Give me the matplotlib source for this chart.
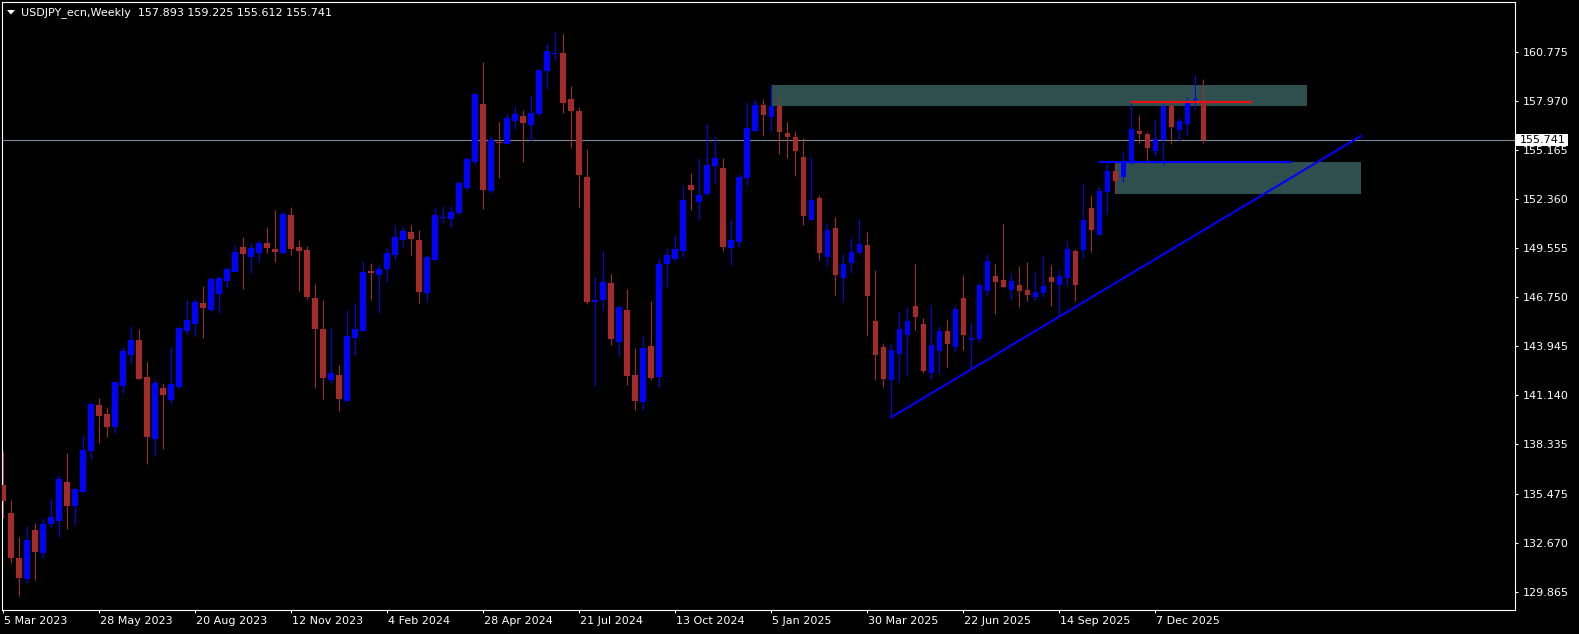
import numpy as np
import matplotlib
matplotlib.use("Agg")
import matplotlib.pyplot as plt
import matplotlib.transforms as mtransforms
from matplotlib.patches import Rectangle, Polygon

plt.rcParams['font.family'] = ['DejaVu Sans']

# weekly USDJPY candles, 5 Mar 2023 .. 18 Jan 2026
open_ = [
    135.99, 134.38, 131.80, 130.62, 133.41, 132.11, 133.77, 133.92, 136.16, 134.80,
    135.58, 137.93, 140.57, 140.05, 139.31, 141.68, 143.46, 144.30, 142.18, 138.64,
    141.55, 140.88, 141.60, 144.81, 145.23, 146.41, 146.04, 146.95, 147.68, 148.21,
    149.61, 149.05, 149.28, 149.86, 149.51, 149.28, 151.46, 149.63, 149.46, 146.70,
    144.93, 142.02, 142.29, 140.82, 144.43, 144.81, 148.25, 148.02, 148.37, 149.17,
    150.05, 150.49, 150.03, 147.01, 148.88, 151.29, 151.25, 151.60, 153.01, 154.52,
    157.82, 152.86, 155.66, 155.55, 156.87, 157.14, 156.64, 157.25, 159.73, 160.69,
    160.74, 158.11, 157.42, 153.64, 146.50, 146.61, 147.57, 144.20, 146.02, 142.29,
    140.77, 143.96, 142.20, 148.67, 148.94, 149.40, 153.18, 152.22, 152.68, 154.29,
    154.15, 149.59, 149.91, 153.60, 156.27, 157.76, 157.08, 157.71, 156.16, 155.93,
    154.78, 151.19, 152.43, 149.05, 150.72, 147.87, 148.71, 149.30, 149.74, 145.39,
    143.90, 142.03, 143.51, 144.60, 146.24, 145.21, 142.42, 143.69, 144.81, 143.91,
    146.70, 144.31, 144.37, 147.12, 147.97, 147.73, 147.18, 147.45, 147.16, 146.76,
    146.99, 147.91, 147.45, 147.87, 149.40, 149.48, 151.86, 150.31, 152.80, 153.98,
    153.66, 154.55, 156.27, 156.10, 155.13, 155.76, 157.70, 156.33, 156.69, 158.05,
    157.893]
high = [
    137.94, 135.12, 133.03, 133.65, 133.83, 134.09, 135.18, 136.56, 137.82, 135.76,
    138.79, 140.76, 140.97, 140.45, 141.95, 143.88, 145.12, 144.93, 143.04, 141.99,
    141.83, 143.90, 145.08, 146.59, 146.64, 147.39, 147.89, 147.97, 148.48, 149.74,
    150.20, 149.84, 150.01, 150.77, 151.75, 151.61, 151.92, 150.03, 149.68, 147.51,
    146.59, 144.99, 142.87, 146.02, 146.42, 148.83, 148.71, 148.60, 149.57, 150.89,
    150.79, 150.89, 150.60, 149.17, 151.86, 151.98, 151.98, 153.41, 154.79, 158.45,
    160.23, 155.99, 156.79, 157.23, 157.71, 157.48, 158.30, 159.85, 161.34, 161.95,
    161.83, 158.85, 157.65, 155.24, 147.91, 149.40, 148.08, 146.25, 147.22, 143.84,
    144.53, 146.54, 149.02, 149.55, 150.31, 153.18, 153.87, 154.73, 156.73, 155.93,
    154.73, 151.23, 153.81, 157.94, 158.11, 158.11, 158.91, 158.22, 156.79, 156.27,
    155.89, 154.80, 152.60, 151.02, 151.35, 149.23, 150.14, 151.23, 150.50, 148.31,
    144.13, 144.07, 145.96, 146.19, 148.65, 145.56, 146.30, 145.10, 145.50, 146.24,
    148.02, 145.27, 147.56, 149.23, 148.65, 150.94, 148.12, 148.53, 148.77, 148.19,
    149.17, 148.59, 148.31, 149.97, 149.51, 153.29, 152.60, 153.06, 154.38, 154.50,
    155.07, 157.88, 157.19, 156.21, 156.96, 157.82, 157.88, 157.02, 158.22, 159.48,
    159.225]
low = [
    134.11, 131.54, 129.64, 130.39, 130.56, 131.82, 133.56, 133.02, 133.48, 133.71,
    135.58, 137.48, 138.41, 138.75, 138.98, 141.22, 142.94, 142.08, 137.21, 137.67,
    138.07, 140.65, 141.51, 144.66, 144.54, 144.43, 145.98, 145.86, 147.30, 148.21,
    147.24, 148.16, 148.79, 149.30, 148.79, 149.28, 149.19, 147.12, 146.67, 141.55,
    140.92, 141.85, 140.25, 140.82, 143.40, 144.81, 146.61, 145.85, 147.64, 148.90,
    149.65, 149.17, 146.44, 146.49, 148.88, 151.02, 150.79, 151.54, 152.91, 154.40,
    151.82, 152.74, 153.60, 155.51, 156.37, 154.52, 155.70, 157.15, 158.70, 160.31,
    157.33, 155.32, 151.94, 146.38, 141.68, 146.04, 144.01, 143.44, 141.72, 140.29,
    140.29, 142.01, 141.63, 147.35, 148.82, 149.07, 151.75, 151.23, 152.55, 153.26,
    149.42, 148.60, 149.64, 153.12, 156.27, 156.00, 156.24, 154.97, 154.75, 153.71,
    150.91, 151.15, 148.88, 148.56, 146.89, 146.49, 148.16, 149.30, 144.55, 142.03,
    141.62, 139.89, 141.91, 142.29, 144.89, 142.42, 142.08, 142.37, 142.77, 143.63,
    143.74, 142.65, 144.20, 146.84, 145.81, 147.29, 146.61, 146.21, 146.55, 146.61,
    146.76, 146.27, 145.63, 147.41, 146.55, 149.01, 149.36, 150.31, 151.51, 152.74,
    153.37, 154.38, 155.58, 154.32, 154.84, 154.32, 155.53, 155.70, 156.04, 157.48,
    155.612]
close = [
    135.09, 131.82, 130.67, 132.83, 132.16, 133.75, 134.13, 136.33, 134.80, 135.76,
    137.99, 140.63, 139.96, 139.31, 141.89, 143.65, 144.30, 142.08, 138.76, 141.83,
    141.16, 141.78, 144.98, 145.44, 146.47, 146.15, 147.79, 147.85, 148.37, 149.36,
    149.25, 149.55, 149.84, 149.57, 149.34, 151.54, 149.51, 149.40, 146.76, 144.93,
    142.14, 142.41, 140.92, 144.55, 144.91, 148.19, 148.16, 148.37, 149.28, 150.20,
    150.56, 150.09, 147.07, 149.05, 151.46, 151.37, 151.63, 153.29, 154.67, 158.40,
    152.91, 155.76, 155.59, 157.02, 157.25, 156.75, 157.31, 159.77, 160.86, 160.75,
    157.90, 157.44, 153.77, 146.50, 146.59, 147.62, 144.36, 146.19, 142.26, 140.82,
    143.86, 142.14, 148.65, 149.17, 149.51, 152.32, 152.89, 152.61, 154.32, 154.73,
    149.64, 150.03, 153.64, 156.45, 157.76, 157.21, 157.71, 156.24, 155.95, 155.15,
    151.42, 152.32, 149.30, 150.60, 148.04, 148.65, 149.34, 149.80, 146.84, 143.46,
    142.08, 143.72, 144.93, 145.39, 145.63, 142.54, 144.01, 144.81, 144.09, 146.07,
    144.60, 144.41, 147.45, 148.83, 147.64, 147.35, 147.68, 147.12, 146.88, 147.05,
    147.39, 147.62, 147.96, 149.51, 147.47, 151.17, 150.62, 152.83, 153.98, 153.42,
    154.50, 156.39, 156.10, 155.30, 155.79, 157.70, 156.50, 156.84, 157.88, 158.11,
    155.741]

date_labels = ["5 Mar 2023", "28 May 2023", "20 Aug 2023", "12 Nov 2023", "4 Feb 2024",
               "28 Apr 2024", "21 Jul 2024", "13 Oct 2024", "5 Jan 2025", "30 Mar 2025",
               "22 Jun 2025", "14 Sep 2025", "7 Dec 2025"]
price_ticks = [160.775, 157.970, 155.165, 152.360, 149.555, 146.750, 143.945,
               141.140, 138.335, 135.475, 132.670, 129.865]

assert len(open_) == len(high) == len(low) == len(close)

W, H = 1579, 634
fig = plt.figure(figsize=(W / 100, H / 100), dpi=100, facecolor='black')
ax = fig.add_axes([2 / W, 24 / H, 1513 / W, 608 / H])
ax.set_facecolor('black')
ax.set_xlim(-0.16, 188.96)
ax.set_ylim(128.824, 163.666)

o = np.array(open_)
c = np.array(close)
hi = np.array(high)
lo = np.array(low)
x = np.arange(len(c))
up = c >= o
cols = np.where(up, '#0000FF', '#A52A2A')

# drawn objects (zones, levels, trend line)
ax.add_patch(Rectangle((96, 157.73), 66.9, 1.18, fc='#2F4F4F', ec='none', zorder=0.5))
ax.add_patch(Rectangle((139, 152.66), 30.7, 1.84, fc='#2F4F4F', ec='none', zorder=0.5))
ax.axhline(c[-1], color='#778899', lw=0.8, zorder=0.8)

ax.vlines(x, lo, hi, colors=cols, lw=0.72, zorder=2)
body = np.maximum(np.abs(c - o), 0.06)
ax.bar(x, body, bottom=np.minimum(o, c), width=0.7, color=cols,
       linewidth=0, zorder=3)

ax.plot([141, 156.05], [157.94, 157.94], color='#E81010', lw=1.6, zorder=4,
        solid_capstyle='butt')
ax.plot([137, 161.05], [154.50, 154.50], color='#0000FF', lw=1.6, zorder=4,
        solid_capstyle='butt')
ax.plot([111, 169.7], [139.87, 155.99], color='#0000FF', lw=1.5, zorder=4)

# axes styling
for s in ax.spines.values():
    s.set_color('white')
    s.set_linewidth(0.8)

ax.yaxis.tick_right()
ax.set_yticks(price_ticks)
ax.set_yticklabels([f'{v:.3f}' for v in price_ticks])
ax.tick_params(axis='y', length=2.2, width=0.8, color='white', labelcolor='white',
               labelsize=8, pad=3.4)

ax.set_xticks(np.arange(0, 12 * len(date_labels), 12))
ax.set_xticklabels(date_labels)
ax.tick_params(axis='x', length=2.2, width=0.8, color='white', labelcolor='white',
               labelsize=8, pad=2)
shift = mtransforms.ScaledTranslation(1 / 100, 0, fig.dpi_scale_trans)
for lbl in ax.get_xticklabels():
    lbl.set_horizontalalignment('left')
    lbl.set_transform(lbl.get_transform() + shift)

# current price label on the scale
tr = mtransforms.blended_transform_factory(ax.transAxes, ax.transData)
ax.add_patch(Rectangle((1 + 1 / 1513, c[-1] - 0.344), 52 / 1513, 0.688, transform=tr,
                       fc='white', ec='none', clip_on=False, zorder=10))
ax.text(1 + 5 / 1513, c[-1], f'{c[-1]:.3f}', transform=tr, ha='left', va='center',
        fontsize=8, color='black', clip_on=False, zorder=11)

# header
fig.patches.append(Polygon([(7 / W, 1 - 10 / H), (15 / W, 1 - 10 / H), (11 / W, 1 - 14.5 / H)],
                           closed=True, fc='white', ec='none', transform=fig.transFigure))
fig.text(21 / W, 1 - 13 / H,
         f'USDJPY_ecn,Weekly  {o[-1]:.3f} {hi[-1]:.3f} {lo[-1]:.3f} {c[-1]:.3f}',
         color='white', fontsize=8, ha='left', va='center')

fig.savefig('out.png', dpi=100, facecolor='black')
